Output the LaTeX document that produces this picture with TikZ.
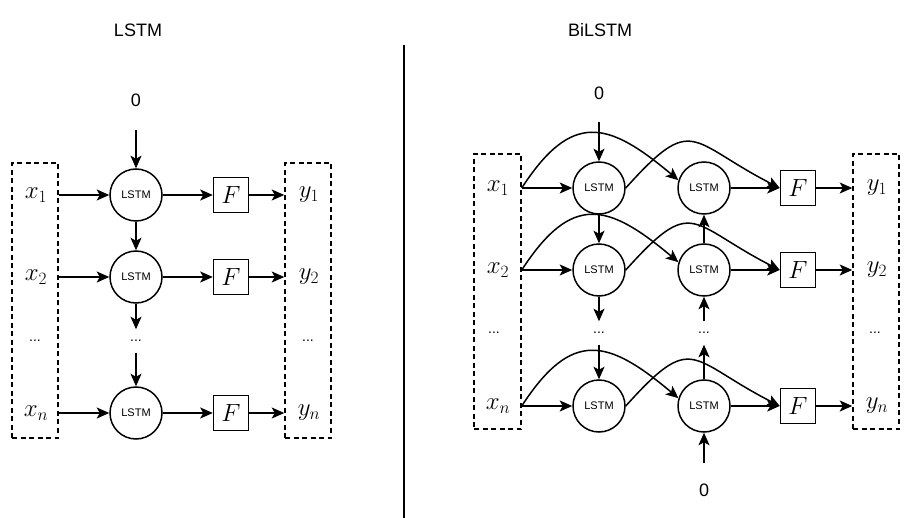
\documentclass[tikz,border=0pt]{standalone}
\usepackage{fontspec}
\setsansfont{Liberation Sans}
\usetikzlibrary{arrows.meta}

\begin{document}
\begin{tikzpicture}[x=1pt,y=1pt,
  >={Stealth[length=12.5pt,width=11pt,inset=3pt]},
  line width=1.5pt,
  cell/.style={circle,draw,minimum size=52pt,inner sep=0pt,
    font=\sffamily\fontsize{11}{11}\selectfont},
  fbox/.style={draw,minimum size=35pt,inner sep=0pt,
    font=\fontsize{24}{24}\selectfont},
  lbl/.style={inner sep=0pt,font=\fontsize{23}{23}\selectfont},
  dashbox/.style={draw,dashed,dash pattern=on 5pt off 3.5pt,inner sep=0pt},
  title/.style={font=\sffamily\fontsize{18}{18}\selectfont},
  zero/.style={font=\sffamily\fontsize{18}{18}\selectfont},
  dotsnode/.style={minimum height=22pt,inner sep=0pt,
    font=\sffamily\fontsize{14}{14}\selectfont},
  link/.style={->}
]
\useasboundingbox (0,0) rectangle (905,-518);

% divider between the two panels
\coordinate (divtop) at (404,-45);
\coordinate (divbot) at (404,-518);
\draw[line width=1.2pt] (divtop) -- (divbot);

% ---------------- LSTM ----------------
\node[title] (tl) at (138,-30) {LSTM};

\node[dashbox,minimum width=46pt,minimum height=275pt] (inL) at (35,-300.5) {};
\node[dashbox,minimum width=46pt,minimum height=275pt] (outL) at (308,-300.5) {};

\node[lbl] (lx1) at (36,-195) {$x_1$};
\node[lbl] (lx2) at (36,-277) {$x_2$};
\node[dotsnode] (lxd) at (35,-341) {...};
\node[lbl] (lxn) at (36,-413) {$x_n$};

\node[lbl] (ly1) at (309,-195) {$y_1$};
\node[lbl] (ly2) at (309,-277) {$y_2$};
\node[dotsnode] (lyd) at (308,-341) {...};
\node[lbl] (lyn) at (309,-413) {$y_n$};

\node[zero] (lz) at (136,-100) {0};
\coordinate (lzs) at (136,-130);

\node[cell] (lc1) at (136,-195) {LSTM};
\node[cell] (lc2) at (136,-277) {LSTM};
\node[dotsnode] (lcd) at (136,-341) {...};
\node[cell] (lcn) at (136,-413) {LSTM};

\node[fbox] (lf1) at (231,-195) {$F$};
\node[fbox] (lf2) at (231,-277) {$F$};
\node[fbox] (lfn) at (231,-413) {$F$};

\draw[link] (lzs) -- (lc1);
\draw[link] (lc1) -- (lc2);
\draw[link] (lc2) -- (lcd);
\draw[link] (lcd) -- (lcn);

\foreach \r in {1,2,n}{
  \draw[link] (inL.east |- lc\r) -- (lc\r);
  \draw[link] (lc\r) -- (lf\r);
  \draw[link] (lf\r) -- (outL.west |- lf\r);
}

% ---------------- BiLSTM ----------------
\node[title] (tr) at (600,-30) {BiLSTM};

\node[dashbox,minimum width=47pt,minimum height=275pt] (inR) at (497.5,-291.5) {};
\node[dashbox,minimum width=46pt,minimum height=275pt] (outR) at (876,-291.5) {};

\node[lbl] (rx1) at (498,-188) {$x_1$};
\node[lbl] (rx2) at (498,-270) {$x_2$};
\node[dotsnode] (rxd) at (494,-333) {...};
\node[lbl] (rxn) at (498,-406) {$x_n$};

\node[lbl] (ry1) at (877,-188) {$y_1$};
\node[lbl] (ry2) at (877,-270) {$y_2$};
\node[dotsnode] (ryd) at (875,-333) {...};
\node[lbl] (ryn) at (877,-406) {$y_n$};

\node[zero] (rzt) at (599,-93) {0};
\coordinate (rzts) at (599,-122);
\node[zero] (rzb) at (704,-490) {0};
\coordinate (rzbs) at (704,-463);

% forward column
\node[cell] (fa1) at (599,-188) {LSTM};
\node[cell] (fa2) at (599,-270) {LSTM};
\node[dotsnode] (fad) at (599,-333) {...};
\node[cell] (fan) at (599,-406) {LSTM};
% backward column
\node[cell] (ba1) at (704,-188) {LSTM};
\node[cell] (ba2) at (704,-270) {LSTM};
\node[dotsnode] (bad) at (704,-333) {...};
\node[cell] (ban) at (704,-406) {LSTM};

\node[fbox] (rf1) at (798,-188) {$F$};
\node[fbox] (rf2) at (798,-270) {$F$};
\node[fbox] (rfn) at (798,-406) {$F$};

\draw[link] (rzts) -- (fa1);
\draw[link] (fa1) -- (fa2);
\draw[link] (fa2) -- (fad);
\draw[link] (fad) -- (fan);

\draw[link] (rzbs) -- (ban);
\draw[link] (ban) -- (bad);
\draw[link] (bad) -- (ba2);
\draw[link] (ba2) -- (ba1);

\foreach \r in {1,2,n}{
  \coordinate (rin\r) at (inR.east |- fa\r);
  \draw[link] (rin\r) -- (fa\r);
  \draw[link] (rin\r) to[out=57,in=140,looseness=1.5] (ba\r.163);
  \draw[link] (fa\r.east) to[out=48,in=153,looseness=1.7] (rf\r.west);
  \draw[link] (ba\r) -- (rf\r);
  \draw[link] (rf\r) -- (outR.west |- rf\r);
}
\end{tikzpicture}
\end{document}
